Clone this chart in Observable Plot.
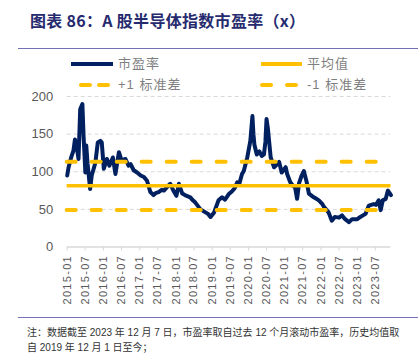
<!DOCTYPE html>
<html>
<head>
<meta charset="utf-8">
<script src="https://cdn.jsdelivr.net/npm/d3@7"></script>
<script src="https://cdn.jsdelivr.net/npm/@observablehq/plot@0.6"></script>
<style>
  html, body { margin: 0; padding: 0; background: #fff; }
  body { width: 418px; height: 358px; position: relative; overflow: hidden; font-family: "Noto Sans CJK SC", "Liberation Sans", sans-serif; }
  .abs { position: absolute; white-space: nowrap; }
  .rule { position: absolute; height: 0; border-top: 1.5px solid #7470b4; }
  .leg { position: absolute; font-size: 13px; line-height: 14px; color: #7f7f7f; letter-spacing: 1px; font-family: "Liberation Sans", "Noto Sans CJK SC", sans-serif; }
  .note { position: absolute; font-size: 10px; line-height: 12px; color: #333; white-space: nowrap; font-family: "Liberation Sans", "Noto Sans CJK SC", sans-serif; }
</style>
</head>
<body>
<div class="abs" style="left:30px;top:11px;font-size:16px;line-height:18px;font-weight:bold;color:#262a6e;font-family:'Noto Sans CJK SC',sans-serif;letter-spacing:0.3px;">图表 86：A 股半导体指数市盈率（x）</div>
<div class="rule" style="left:18px;top:47.5px;width:400px;"></div>

<svg class="abs" style="left:0;top:54px" width="418" height="40">
  <line x1="71" x2="113" y1="10" y2="10" stroke="#002060" stroke-width="4"/>
  <line x1="261" x2="302" y1="10" y2="10" stroke="#FFC000" stroke-width="4"/>
  <line x1="81" x2="90" y1="31" y2="31" stroke="#FFC000" stroke-width="4" stroke-linecap="round"/>
  <line x1="99" x2="108" y1="31" y2="31" stroke="#FFC000" stroke-width="4" stroke-linecap="round"/>
  <line x1="262" x2="271" y1="31" y2="31" stroke="#FFC000" stroke-width="4" stroke-linecap="round"/>
  <line x1="287" x2="296" y1="31" y2="31" stroke="#FFC000" stroke-width="4" stroke-linecap="round"/>
</svg>
<div class="leg" style="left:118px;top:57px;">市盈率</div>
<div class="leg" style="left:307px;top:57px;">平均值</div>
<div class="leg" style="left:118px;top:78px;">+1 标准差</div>
<div class="leg" style="left:307px;top:78px;">-1 标准差</div>

<div id="chart" class="abs" style="left:0;top:88px;"></div>

<div class="rule" style="left:18px;top:316.5px;width:400px;"></div>
<div class="note" style="left:27px;top:327px;">注：数据截至 2023 年 12 月 7 日，市盈率取自过去 12 个月滚动市盈率，历史均值取</div>
<div class="note" style="left:27px;top:342px;">自 2019 年 12 月 1 日至今；</div>

<script>
const dates = [
  "2015-01-01","2015-01-15","2015-02-10","2015-03-05","2015-03-20","2015-04-05","2015-04-25","2015-05-12","2015-06-03","2015-06-15",
  "2015-07-03","2015-07-12","2015-07-25","2015-08-20","2015-09-05","2015-10-12","2015-11-05","2015-12-01","2015-12-15","2016-01-05",
  "2016-02-05","2016-03-01","2016-04-05","2016-05-01","2016-06-05","2016-07-01","2016-08-10","2016-09-10","2016-10-01","2016-11-01",
  "2016-12-05","2017-01-10","2017-02-12","2017-03-15","2017-04-18","2017-05-20","2017-06-15","2017-07-10","2017-08-10","2017-09-01",
  "2017-10-05","2017-11-05","2017-12-05","2018-01-05","2018-01-30","2018-03-05","2018-04-01","2018-05-25","2018-06-20","2018-07-15",
  "2018-09-05","2018-10-25","2018-11-20","2018-12-15","2019-01-20","2019-03-05","2019-04-10","2019-05-10","2019-06-15","2019-07-20",
  "2019-08-15","2019-09-10","2019-10-01","2019-10-28","2019-11-15","2019-12-20","2020-01-20","2020-02-10","2020-02-20","2020-03-01",
  "2020-03-25","2020-04-20","2020-05-15","2020-06-05","2020-06-20","2020-07-01","2020-07-15","2020-08-12","2020-09-15","2020-10-15",
  "2020-11-05","2020-12-01","2021-01-10","2021-01-25","2021-02-25","2021-03-20","2021-04-15","2021-05-05","2021-05-25","2021-06-20",
  "2021-07-12","2021-08-10","2021-09-01","2021-10-20","2021-11-15","2021-12-10","2022-01-15","2022-02-01","2022-03-18","2022-04-20",
  "2022-05-20","2022-07-01","2022-08-01","2022-09-01","2022-10-10","2022-11-10","2022-12-10","2023-01-01","2023-02-01","2023-03-25",
  "2023-04-28","2023-06-15","2023-07-10","2023-08-05","2023-08-25","2023-09-15","2023-10-15","2023-11-06","2023-12-07"
];
const peValues = [
  95,106,119,128,143,135,117,183,190,147,
  99,135,111,77,95,112,139,141,139,104,
  117,108,119,97,126,115,117,108,110,102,
  99,95,93,88,73,69,72,73,76,75,
  80,84,75,68,84,71,69,66,62,59,
  50,46,44,40,46,62,66,63,70,74,
  78,86,84,97,101,119,141,174,150,136,
  123,127,121,123,140,170,157,119,106,110,
  113,99,106,97,86,82,79,64,85,95,
  101,86,71,66,64,62,57,53,46,35,
  40,39,42,37,33,37,37,37,40,44,
  55,57,56,62,49,62,64,75,69
];
const meanValue = 81.3;
const plusOneStd = 113.3;
const minusOneStd = 49.3;
const yTicks = [0, 50, 100, 150, 200];
const xTickLabels = ["2015-01","2015-07","2016-01","2016-07","2017-01","2017-07","2018-01","2018-07","2019-01","2019-07",
  "2020-01","2020-07","2021-01","2021-07","2022-01","2022-07","2023-01","2023-07"];

const data = dates.map((d, i) => ({date: new Date(d + "T00:00:00Z"), pe: peValues[i]}));
const xTicks = xTickLabels.map(s => new Date(s + "-01T00:00:00Z"));

const chart = Plot.plot({
  width: 418,
  height: 225,
  marginLeft: 66.7,
  marginRight: 27.5,
  marginTop: 8,
  marginBottom: 66.5,
  style: {background: "transparent", color: "#595959", fontFamily: "'Liberation Sans', sans-serif"},
  x: {type: "utc", domain: [new Date("2015-01-01T00:00:00Z"), new Date("2023-12-07T00:00:00Z")]},
  y: {domain: [0, 200]},
  marks: [
    Plot.gridY(yTicks.filter(t => t > 0), {stroke: "#d9d9d9", strokeOpacity: 1, strokeDasharray: "4,3", strokeWidth: 1}),
    Plot.axisY(yTicks, {tickSize: 0, tickPadding: 14, fontSize: 13, label: null, fill: "#595959"}),
    Plot.axisX(xTicks, {tickSize: 4, tickPadding: 4, tickRotate: -90, fontSize: 11, label: null,
      tickFormat: d3.utcFormat("%Y-%m"), stroke: "#d9d9d9", fill: "#595959"}),
    Plot.ruleY([0], {stroke: "#d9d9d9", strokeWidth: 1.5}),
    Plot.line(data, {x: "date", y: "pe", stroke: "#002060", strokeWidth: 4, strokeLinejoin: "round"}),
    Plot.ruleY([meanValue], {stroke: "#FFC000", strokeWidth: 3.5}),
    Plot.ruleY([plusOneStd, minusOneStd], {stroke: "#FFC000", strokeWidth: 4, strokeDasharray: "9,16", strokeLinecap: "round"})
  ]
});
document.getElementById("chart").appendChild(chart);
chart.querySelectorAll('[aria-label="x-axis tick label"] text').forEach(t => t.style.letterSpacing = "1.3px");
</script>
</body>
</html>
